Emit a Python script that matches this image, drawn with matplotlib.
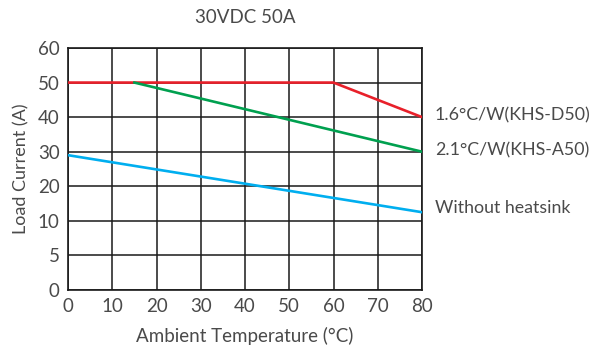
import numpy as np
import matplotlib
matplotlib.use('Agg')
import matplotlib.pyplot as plt

plt.rcParams['font.family'] = ['Lato', 'DejaVu Sans']

# derating curves (ambient temp in C, load current in A)
temp_red = [0, 60, 80]
current_red = [50, 50, 40]
temp_green = [15, 80]
current_green = [50, 30]
temp_blue = [0, 80]
current_blue = [29, 12.5]

x_ticks = [0, 10, 20, 30, 40, 50, 60, 70, 80]
y_ticks = [0, 5, 10, 20, 30, 40, 50, 60]
curve_labels = ["1.6°C/W(KHS-D50)", "2.1°C/W(KHS-A50)", "Without heatsink"]
label_y = [40.6, 30.5, 13.7]

# y axis is evenly spaced on the ticks, so map values through them
tick_pos = np.arange(len(y_ticks))
def fwd(v):
    return np.interp(v, y_ticks, tick_pos)
def inv(p):
    return np.interp(p, tick_pos, y_ticks)

txt_color = '#4a4a4a'

fig = plt.figure(figsize=(5.98, 3.54), dpi=100)
ax = fig.add_axes([68/598, 64/354, 354/598, 242/354])
ax.set_yscale('function', functions=(fwd, inv))

ax.plot(temp_red, current_red, color='#e8202a', lw=1.9, zorder=3)
ax.plot(temp_green, current_green, color='#00a04f', lw=1.9, zorder=3)
ax.plot(temp_blue, current_blue, color='#00aeef', lw=1.9, zorder=3)

ax.set_xlim(0, 80)
ax.set_ylim(0, 60)
ax.set_xticks(x_ticks)
ax.set_yticks(y_ticks)
ax.set_yticklabels([str(t) for t in y_ticks])
ax.grid(True, color='#1a1a1a', lw=1.1)
ax.tick_params(length=0, labelsize=13.5, labelcolor=txt_color, pad=6)
for s in ax.spines.values():
    s.set_color('#1a1a1a')
    s.set_linewidth(1.2)

for txt, yv in zip(curve_labels, label_y):
    ax.text(82.9, yv, txt, fontsize=12.8, color=txt_color, va='center', ha='left',
            clip_on=False)

ax.set_xlabel("Ambient Temperature (°C)", fontsize=13.5, color=txt_color, labelpad=8)
ax.set_ylabel("Load Current (A)", fontsize=13, color=txt_color, labelpad=6)
ax.set_title("30VDC 50A", fontsize=13.5, color=txt_color, pad=18)

fig.savefig("out.png", dpi=100)
